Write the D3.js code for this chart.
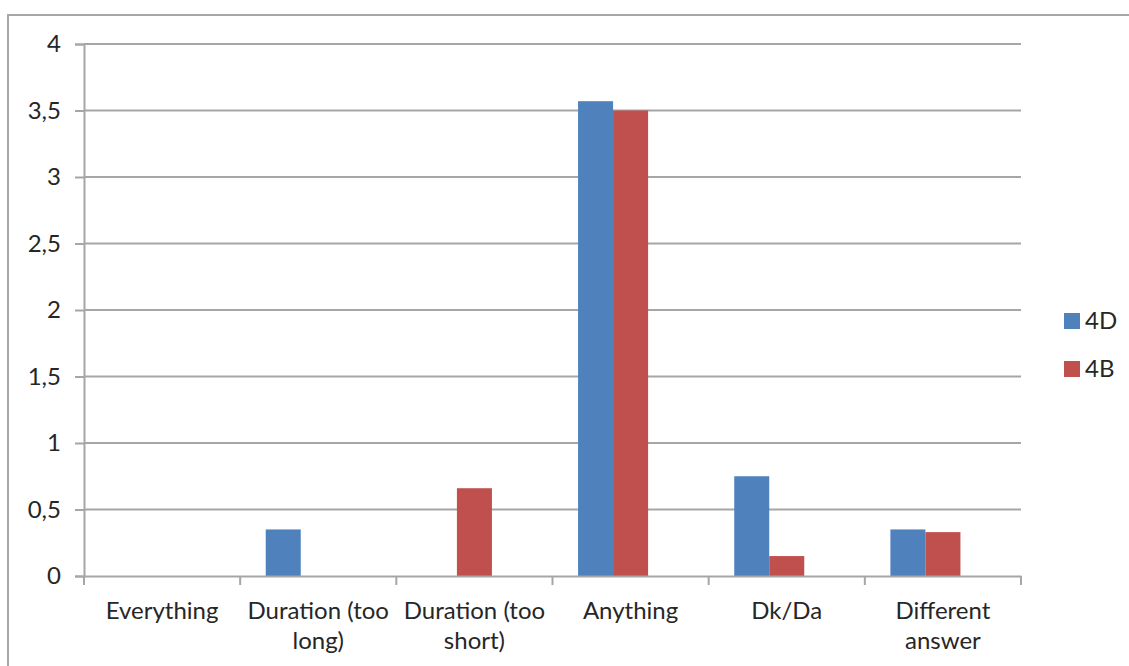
<!DOCTYPE html>
<html>
<head>
<meta charset="utf-8">
<script src="https://cdn.jsdelivr.net/npm/d3@7"></script>
<style>
  html, body { margin: 0; padding: 0; background: #fff; }
  svg { display: block; }
  text { font-family: Lato, "Open Sans", sans-serif; fill: #262626; }
</style>
</head>
<body>
<svg id="chart" width="1129" height="666"></svg>
<script>
// Categories and their wrapped axis labels
const categories = ["Everything", "Duration (too long)", "Duration (too short)", "Anything", "Dk/Da", "Different answer"];
const categoryLines = [["Everything"], ["Duration (too", "long)"], ["Duration (too", "short)"], ["Anything"], ["Dk/Da"], ["Different", "answer"]];

// Series values
const seriesNames = ["4D", "4B"];
const values4D = [0, 0.35, 0, 3.57, 0.75, 0.35];
const values4B = [0, 0, 0.66, 3.5, 0.15, 0.33];
const seriesColors = ["#4F81BD", "#C0504D"];

// Value axis ticks
const yTicks = [0, 0.5, 1, 1.5, 2, 2.5, 3, 3.5, 4];
const yTickLabels = ["0", "0,5", "1", "1,5", "2", "2,5", "3", "3,5", "4"];

// The series slots include one unused slot, as in the original workbook layout
const slotKeys = ["4D", "4B", "spare"];

const svg = d3.select("#chart");
const margin = { left: 84, right: 1021, top: 44, bottom: 576 };
const fontSize = "24px";

// Chart frame
svg.append("rect")
  .attr("x", 8).attr("y", 15)
  .attr("width", 1140).attr("height", 680)
  .attr("fill", "none")
  .attr("stroke", "#a6a6a6")
  .attr("stroke-width", 2);

const x0 = d3.scaleBand().domain(categories).range([margin.left, margin.right]).paddingInner(0).paddingOuter(0);
const x1 = d3.scaleBand().domain(slotKeys).range([0, x0.bandwidth()]).paddingInner(0).paddingOuter(0.73);
const y = d3.scaleLinear().domain([0, 4]).range([margin.bottom, margin.top]);

// Gridlines
svg.append("g")
  .selectAll("line")
  .data(yTicks.filter(d => d > 0))
  .join("line")
  .attr("x1", margin.left).attr("x2", margin.right)
  .attr("y1", d => y(d)).attr("y2", d => y(d))
  .attr("stroke", "#a6a6a6")
  .attr("stroke-width", 2);

// Bars
const seriesValues = [values4D, values4B];
seriesNames.forEach((name, si) => {
  svg.append("g")
    .selectAll("rect")
    .data(categories.map((c, i) => ({ c, v: seriesValues[si][i] })))
    .join("rect")
    .attr("x", d => x0(d.c) + x1(name))
    .attr("width", x1.bandwidth())
    .attr("y", d => y(d.v))
    .attr("height", d => y(0) - y(d.v))
    .attr("fill", seriesColors[si]);
});

// Value axis
const yAxis = d3.axisLeft(y)
  .tickValues(yTicks)
  .tickFormat((d, i) => yTickLabels[i])
  .tickSize(9)
  .tickPadding(14);
const gy = svg.append("g").attr("transform", `translate(${margin.left},0)`).call(yAxis);
gy.select(".domain").attr("stroke", "#a6a6a6").attr("stroke-width", 2);
gy.selectAll(".tick line").attr("stroke", "#a6a6a6").attr("stroke-width", 2);
gy.selectAll(".tick text")
  .style("font-family", "Lato, 'Open Sans', sans-serif")
  .style("font-size", fontSize)
  .attr("fill", "#262626");

// Category axis
const xAxis = d3.axisBottom(x0).tickSize(0).tickFormat("");
const gx = svg.append("g").attr("transform", `translate(0,${margin.bottom})`).call(xAxis);
gx.select(".domain").attr("stroke", "#a6a6a6").attr("stroke-width", 2);

// Category boundary ticks
const bounds = categories.map(c => x0(c)).concat([x0(categories[categories.length - 1]) + x0.bandwidth()]);
svg.append("g")
  .selectAll("line")
  .data(bounds)
  .join("line")
  .attr("x1", d => d).attr("x2", d => d)
  .attr("y1", margin.bottom).attr("y2", margin.bottom + 9)
  .attr("stroke", "#a6a6a6")
  .attr("stroke-width", 2);

// Category labels
const labels = svg.append("g")
  .selectAll("text")
  .data(categories)
  .join("text")
  .attr("x", d => x0(d) + x0.bandwidth() / 2)
  .attr("y", 619)
  .attr("text-anchor", "middle")
  .style("font-size", fontSize);
labels.each(function(d, i) {
  const t = d3.select(this);
  categoryLines[i].forEach((line, li) => {
    t.append("tspan")
      .attr("x", x0(d) + x0.bandwidth() / 2)
      .attr("dy", li === 0 ? 0 : 30)
      .text(line);
  });
});

// Legend
const legend = svg.append("g");
seriesNames.forEach((name, i) => {
  const cy = 321 + i * 48;
  legend.append("rect")
    .attr("x", 1064).attr("y", cy - 8)
    .attr("width", 16).attr("height", 16)
    .attr("fill", seriesColors[i]);
  legend.append("text")
    .attr("x", 1085).attr("y", cy + 8)
    .style("font-size", fontSize)
    .text(name);
});
</script>
</body>
</html>
